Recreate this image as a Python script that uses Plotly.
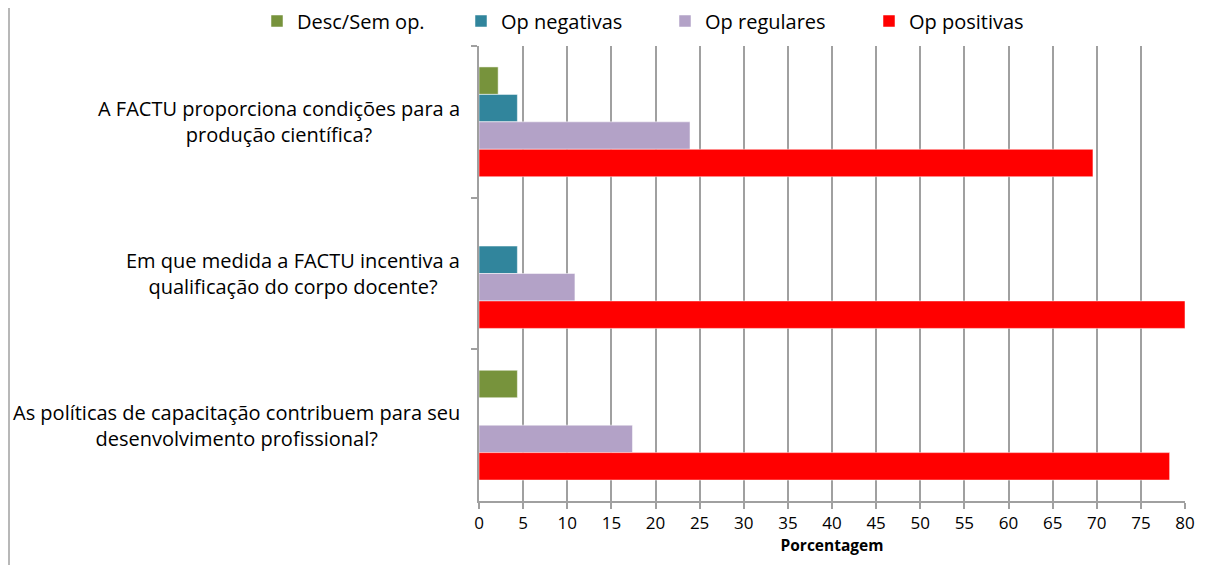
import plotly.graph_objects as go

# questions (top to bottom)
questions = [
    "A FACTU proporciona condições para a<br>produção científica?",
    "Em que medida a FACTU incentiva a<br>qualificação do corpo docente?",
    "As políticas de capacitação contribuem para seu<br>desenvolvimento profissional?",
]
cats = ["q1", "q2", "q3"]

desc_sem_op = [2.17, 0, 4.35]
op_negativas = [4.35, 4.35, 0]
op_regulares = [23.91, 10.87, 17.39]
op_positivas = [69.57, 80.0, 78.26]

x_ticks = list(range(0, 81, 5))

series = [
    ("Desc/Sem op.", desc_sem_op, "#77933C"),
    ("Op negativas", op_negativas, "#31859C"),
    ("Op regulares", op_regulares, "#B3A2C7"),
    ("Op positivas", op_positivas, "#FF0000"),
]

fnt = "Open Sans"
W, H = 1201, 557   # page body has an 8px margin
L, R, T, B = 471, 24, 38, 64
PW, PH = W - L - R, H - T - B

fig = go.Figure()
for name, vals, col in series:
    fig.add_trace(go.Bar(
        y=cats, x=vals, name=name, orientation="h",
        marker=dict(color=col, line=dict(color="white", width=0.5)),
    ))

fig.update_layout(
    width=W, height=H,
    barmode="group", bargap=0.276, bargroupgap=0,
    plot_bgcolor="white", paper_bgcolor="white",
    margin=dict(l=L, r=R, t=T, b=B, autoexpand=False),
    font=dict(family=fnt, size=20, color="black"),
    legend=dict(
        orientation="h", xref="paper", yref="paper",
        x=(249 - L) / PW, y=1 + (T - 13) / PH, xanchor="left", yanchor="middle",
        entrywidth=159, entrywidthmode="pixels",
        font=dict(family=fnt, size=20), traceorder="normal",
    ),
    showlegend=True,
)

fig.update_xaxes(
    range=[0, 80], tickvals=x_ticks, ticktext=[str(v) for v in x_ticks],
    showgrid=True, gridcolor="#A0A0A0", gridwidth=1.5,
    showline=True, linecolor="#A0A0A0", linewidth=1.5,
    ticks="outside", ticklen=6, tickcolor="#A0A0A0", tickwidth=1.5,
    tickfont=dict(family=fnt, size=17), zeroline=False,
    title=dict(text="<b>Porcentagem</b>", font=dict(family=fnt, size=15.5), standoff=7),
)
fig.update_yaxes(
    categoryorder="array", categoryarray=cats, autorange="reversed",
    showticklabels=False, showgrid=False,
    showline=True, linecolor="#A0A0A0", linewidth=1.5,
    ticks="outside", tickson="boundaries", ticklen=6, tickcolor="#A0A0A0", tickwidth=1.5,
)

for c, q in zip(cats, questions):
    fig.add_annotation(
        x=-17 / PW, xref="paper", y=c, yref="y", text=q, showarrow=False,
        xanchor="right", yanchor="middle", align="center",
        font=dict(family=fnt, size=20, color="black"),
    )

# left border of the chart area
fig.add_shape(type="line", xref="paper", yref="paper",
              x0=-(L - 1) / PW, x1=-(L - 1) / PW, y0=-B / PH, y1=1 + T / PH,
              line=dict(color="#A0A0A0", width=1.5))

fig.write_html("out.html")
